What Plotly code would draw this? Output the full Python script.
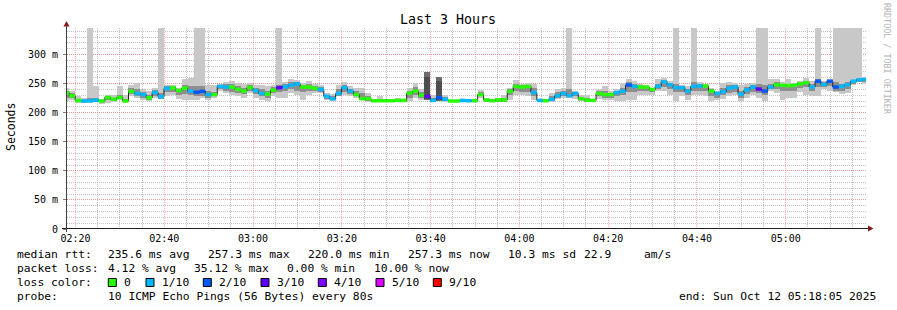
import numpy as np
import pandas as pd
import plotly.graph_objects as go

# ---------------- data ----------------
step_seconds = 80
first_step = "2025-10-12 02:17:16"
x_start = "2025-10-12 02:18:05"
x_end = "2025-10-12 05:18:05"

median_ms = [234, 229, 221, 220, 220, 221.5, 220, 226, 223, 226,
             220, 236.5, 233, 231, 225.5, 234.5, 227.5, 241.5, 242.7, 238,
             242, 237, 235, 236.5, 231, 231, 245, 244, 244, 240,
             237, 243, 238, 233, 232, 238.6, 243, 244.5, 247, 249.5,
             244, 244, 242, 240, 228, 224, 233, 243, 237, 231,
             224, 224, 220.5, 220.5, 220.5, 220.5, 221, 221, 233.5, 237,
             230, 228, 221, 226, 223, 220, 220, 221, 220.5, 220.5,
             231, 222, 220.5, 222, 222, 236.5, 245, 244, 245, 234.5,
             221, 220.5, 223, 229, 233, 229, 233, 224, 221.5, 221,
             233, 231, 231, 234.5, 237, 247.5, 245, 244, 244, 240,
             245.5, 253, 248, 243, 243, 237, 245, 246, 246, 237,
             233, 236, 242, 244, 232, 239, 244, 240.5, 237, 244,
             248, 247, 246.5, 247, 249.5, 251.5, 244, 254, 248.5, 254,
             244, 245, 248, 254, 256.5, 257.3]

loss_tenths = [0, 0, 0, 1, 1, 1, 0, 0, 0, 0,
               0, 0, 1, 1, 0, 1, 1, 1, 0, 0,
               0, 1, 2, 2, 1, 0, 1, 1, 0, 0,
               0, 0, 1, 1, 0, 0, 3, 1, 1, 1,
               0, 0, 0, 1, 1, 1, 1, 1, 1, 0,
               0, 0, 0, 0, 0, 0, 0, 0, 0, 0,
               0, 3, 1, 2, 1, 0, 0, 1, 1, 0,
               0, 0, 0, 0, 0, 0, 0, 0, 0, 1,
               1, 0, 1, 1, 1, 1, 1, 0, 0, 0,
               0, 0, 0, 1, 1, 2, 1, 0, 0, 0,
               1, 1, 1, 1, 1, 1, 1, 1, 0, 0,
               1, 1, 1, 1, 1, 1, 1, 3, 2, 1,
               0, 0, 0, 0, 0, 0, 1, 2, 1, 2,
               2, 1, 1, 1, 1, 1]

smoke_max = [243, 237, 228, 225.5, 350, 246, 224, 231, 230, 245,
             230, 248, 251, 240, 237, 243, 350, 247, 247, 243,
             257, 260, 350, 350, 248, 247, 249, 253, 254, 251,
             249, 251, 248, 247, 245, 248, 350, 253, 257, 256,
             251, 254, 249, 248, 234, 232, 248, 253, 245, 243,
             243, 234, 222, 228, 222, 222, 226, 224, 242, 251,
             240, 270, 230, 262, 231, 222, 222, 223, 222, 222,
             239, 224, 222, 226, 230, 243, 256, 249, 251, 249,
             222, 222, 234, 241, 243, 350, 238, 230, 230, 224,
             241, 245, 237, 240, 251, 257, 254, 249, 248, 243,
             257, 259, 255, 350, 248, 245, 350, 253, 248, 243,
             237, 251, 253, 251, 248, 249, 251, 350, 350, 257,
             257, 253, 257, 251, 255, 260, 254, 350, 254, 257,
             350, 350, 350, 350, 350, 260]

smoke_min = [220, 222, 216, 216, 219, 218, 215, 216, 218, 221,
             218, 228, 226, 222, 220, 225, 224, 228, 230, 224,
             222, 222, 222, 225, 222, 225, 237, 234, 231, 228,
             226, 234, 225, 222, 220, 228, 226, 225, 234, 231,
             221, 230, 234, 234, 221, 220, 228, 231, 228, 225,
             222, 218, 218, 218, 218, 218, 218, 218, 220, 225,
             222, 222, 218, 220, 218, 218, 218, 218, 218, 218,
             226, 218, 218, 218, 218, 221, 231, 230, 228, 222,
             218, 218, 218, 224, 226, 225, 224, 220, 218, 218,
             224, 222, 221, 220, 220, 221, 221, 230, 230, 230,
             238, 238, 231, 220, 228, 222, 231, 231, 228, 220,
             221, 224, 228, 230, 220, 226, 230, 225, 220, 237,
             234, 222, 225, 226, 236, 230, 228, 228, 240, 237,
             236, 232, 234, 248, 252, 250]

smoke_inner_hi = [238, 233, 224, 222, 226, 226, 222, 228, 226, 230,
                  224, 243, 240, 236, 231, 239, 234, 245, 245, 241,
                  248, 246, 246, 245, 238, 236, 247, 249, 249, 246,
                  243, 247, 243, 240, 238, 244, 248, 249, 252, 253,
                  248, 249, 246, 244, 231, 228, 240, 248, 241, 237,
                  233, 228, 221, 224, 221, 221, 223, 222, 238, 244,
                  235, 262, 226, 255, 227, 221, 221, 222, 221, 221,
                  235, 223, 221, 224, 226, 240, 250, 247, 248, 242,
                  221, 221, 228, 235, 238, 240, 236, 227, 225, 222,
                  237, 237, 234, 237, 243, 252, 250, 247, 246, 242,
                  250, 256, 251, 250, 246, 241, 252, 250, 248, 240,
                  235, 242, 247, 248, 238, 244, 247, 250, 248, 250,
                  252, 250, 250, 249, 252, 255, 250, 258, 252, 256,
                  252, 250, 252, 256, 258, 259]

smoke_inner_lo = [226, 225, 219, 218, 219, 219, 218, 222, 220, 223,
                  219, 232, 229, 226, 222, 229, 224, 235, 236, 230,
                  232, 230, 228, 229, 226, 228, 240, 238, 236, 234,
                  232, 238, 232, 228, 226, 233, 236, 238, 240, 238,
                  236, 238, 238, 236, 224, 221, 229, 236, 232, 228,
                  222, 220, 219, 219, 219, 219, 219, 219, 226, 230,
                  226, 224, 219, 222, 220, 219, 219, 219, 219, 219,
                  228, 219, 219, 219, 219, 230, 238, 236, 236, 228,
                  219, 219, 220, 226, 229, 228, 228, 222, 219, 219,
                  228, 226, 226, 228, 230, 236, 236, 238, 238, 235,
                  241, 244, 240, 236, 236, 230, 238, 238, 238, 228,
                  226, 230, 234, 236, 226, 232, 236, 234, 230, 240,
                  240, 238, 238, 238, 242, 244, 238, 244, 244, 246,
                  238, 238, 240, 250, 253, 253]

high_loss_smoke_steps = [61, 63]

y_tick_vals = [0, 50, 100, 150, 200, 250, 300]
y_tick_text = ["0", "50 m", "100 m", "150 m", "200 m", "250 m", "300 m"]

title_text = "Last 3 Hours"
y_title = "Seconds"
legend_rows = [
    [(16, "median rtt:"), (107.3, "235.6 ms avg"), (207.3, "257.3 ms max"),
     (307.3, "220.0 ms min"), (406.7, "257.3 ms now"), (507.3, "10.3 ms sd"),
     (583, "22.9"), (642.7, "am/s")],
    [(16, "packet loss:"), (107.3, "4.12 % avg"), (193.3, "35.12 % max"),
     (286, "0.00 % min"), (373.3, "10.00 % now")],
    [(16, "loss color:")],
    [(16, "probe:"), (107.3, "10 ICMP Echo Pings (56 Bytes) every 80s"),
     (677.7, "end: Sun Oct 12 05:18:05 2025")],
]
loss_legend = [("0", "#26ff00"), ("1/10", "#00b8ff"), ("2/10", "#0059ff"),
               ("3/10", "#5e00ff"), ("4/10", "#7e00ff"), ("5/10", "#dd00ff"),
               ("9/10", "#ff0000")]
loss_color = {0: "#26ff00", 1: "#00b8ff", 2: "#0059ff", 3: "#5e00ff",
              4: "#7e00ff", 5: "#dd00ff", 9: "#ff0000"}

# ---------------- geometry ----------------
FIG_W, FIG_H = 897, 310
L, R, T, B = 67, 31, 28, 81
PW, PH = FIG_W - L - R, FIG_H - T - B
Y_MAX = 345.5


def xp(px):
    return (px - L) / PW


def yp(py):
    return 1 - (py - T) / PH


n = len(median_ms)
starts = pd.Timestamp(first_step) + pd.to_timedelta(np.arange(n) * step_seconds, unit="s")
ends = starts + pd.Timedelta(seconds=step_seconds)
centers = starts + pd.Timedelta(seconds=step_seconds / 2)
w_ms = step_seconds * 1000

med = np.array(median_ms, dtype=float)
smin = np.array(smoke_min, dtype=float)
smax = np.array(smoke_max, dtype=float)
ilo = np.array(smoke_inner_lo, dtype=float)
ihi = np.array(smoke_inner_hi, dtype=float)

outer_colors = ["#6c6c6c" if i in high_loss_smoke_steps else "#c8c8c8" for i in range(n)]
inner_colors = ["#4e4e4e" if i in high_loss_smoke_steps else "#8e8e8e" for i in range(n)]

fig = go.Figure()
fig.add_trace(go.Bar(x=centers, y=smax - smin, base=smin, width=w_ms,
                     marker=dict(color=outer_colors, line=dict(width=0)),
                     hoverinfo="skip", showlegend=False))
fig.add_trace(go.Bar(x=centers, y=ihi - ilo, base=ilo, width=w_ms,
                     marker=dict(color=inner_colors, line=dict(width=0)),
                     hoverinfo="skip", showlegend=False))
line_x = list(starts) + [pd.Timestamp(x_end)]
line_y = list(med) + [med[-1]]
fig.add_trace(go.Scatter(x=line_x, y=line_y, mode="lines", line_shape="hv",
                         line=dict(color="#202020", width=1),
                         hoverinfo="skip", showlegend=False))
for lv in sorted(set(loss_tenths)):
    xs, ys = [], []
    for i in range(n):
        if loss_tenths[i] == lv:
            xs += [starts[i], ends[i], None]
            ys += [med[i], med[i], None]
    fig.add_trace(go.Scatter(x=xs, y=ys, mode="lines", connectgaps=False,
                             line=dict(color=loss_color[lv], width=3.5),
                             hoverinfo="skip", showlegend=False))

mono = "DejaVu Sans Mono"
fig.update_layout(
    width=FIG_W, height=FIG_H,
    margin=dict(l=L, r=R, t=T, b=B, pad=0),
    paper_bgcolor="white", plot_bgcolor="white",
    barmode="overlay", bargap=0,
    font=dict(family=mono, size=10, color="#000000"),
    showlegend=False,
    xaxis=dict(type="date", range=[x_start, x_end],
               dtick=20 * 60 * 1000, tickformat="%H:%M",
               showgrid=True, gridcolor="rgba(255,110,110,0.55)", griddash="1px,1px", gridwidth=1,
               minor=dict(dtick=5 * 60 * 1000, showgrid=True, gridcolor="rgba(170,170,170,0.7)",
                          griddash="1px,1px", gridwidth=1),
               showline=False, zeroline=False, ticks="", ticklabelstandoff=2,
               tickfont=dict(family=mono, size=10)),
    yaxis=dict(range=[0, Y_MAX], tickvals=y_tick_vals, ticktext=y_tick_text,
               showgrid=True, gridcolor="rgba(255,110,110,0.55)", griddash="1px,1px", gridwidth=1,
               minor=dict(dtick=10, showgrid=True, gridcolor="rgba(170,170,170,0.7)",
                          griddash="1px,1px", gridwidth=1),
               showline=False, zeroline=False, ticks="outside", ticklen=3, tickcolor="#808080",
               ticklabelstandoff=3, tickfont=dict(family=mono, size=10)),
)

shapes = []
shapes.append(dict(type="line", xref="paper", yref="paper", x0=xp(66.5), x1=xp(66.5),
                   y0=yp(232), y1=yp(25), line=dict(color="#404040", width=1)))
shapes.append(dict(type="line", xref="paper", yref="paper", x0=xp(62), x1=xp(868),
                   y0=yp(228.5), y1=yp(228.5), line=dict(color="#202020", width=1)))
shapes.append(dict(type="path", xref="paper", yref="paper",
                   path=f"M {xp(63.5)},{yp(26.5)} L {xp(69.5)},{yp(26.5)} L {xp(66.5)},{yp(21)} Z",
                   fillcolor="#8b1a1a", line=dict(width=0)))
shapes.append(dict(type="path", xref="paper", yref="paper",
                   path=f"M {xp(868)},{yp(225.5)} L {xp(868)},{yp(231.5)} L {xp(873.5)},{yp(228.5)} Z",
                   fillcolor="#8b1a1a", line=dict(width=0)))

annotations = []
annotations.append(dict(text=title_text, x=xp(448), y=yp(19), xref="paper", yref="paper",
                        showarrow=False, xanchor="center", yanchor="middle",
                        font=dict(family=mono, size=13.3, color="#000000")))
annotations.append(dict(text=y_title, x=xp(11), y=yp(127), xref="paper", yref="paper",
                        showarrow=False, xanchor="center", yanchor="middle", textangle=-90,
                        font=dict(family=mono, size=11.5, color="#000000")))
annotations.append(dict(text="RRDTOOL / TOBI OETIKER", x=xp(887), y=yp(59), xref="paper", yref="paper",
                        showarrow=False, xanchor="center", yanchor="middle", textangle=90,
                        font=dict(family=mono, size=8.4, color="#b4b4b4")))

LEG_FS = 11.3
row_y = [254, 268, 282.5, 296]
for ry, row in zip(row_y, legend_rows):
    for px, txt in row:
        annotations.append(dict(text=txt, x=xp(px - 1), y=yp(ry), xref="paper", yref="paper",
                                showarrow=False, xanchor="left", yanchor="middle",
                                font=dict(family=mono, size=LEG_FS, color="#000000")))

box_x = [108.3, 146, 203.3, 261, 318.3, 376, 433.3]
for bx, (lab, col) in zip(box_x, loss_legend):
    shapes.append(dict(type="rect", xref="paper", yref="paper",
                       x0=xp(bx), x1=xp(bx + 8), y0=yp(286.5), y1=yp(278.5),
                       fillcolor=col, line=dict(color="#000000", width=1)))
    annotations.append(dict(text=lab, x=xp(bx + 13.5), y=yp(282.5), xref="paper", yref="paper",
                            showarrow=False, xanchor="left", yanchor="middle",
                            font=dict(family=mono, size=LEG_FS, color="#000000")))

fig.update_layout(shapes=shapes, annotations=annotations)
fig.write_html("out.html")
